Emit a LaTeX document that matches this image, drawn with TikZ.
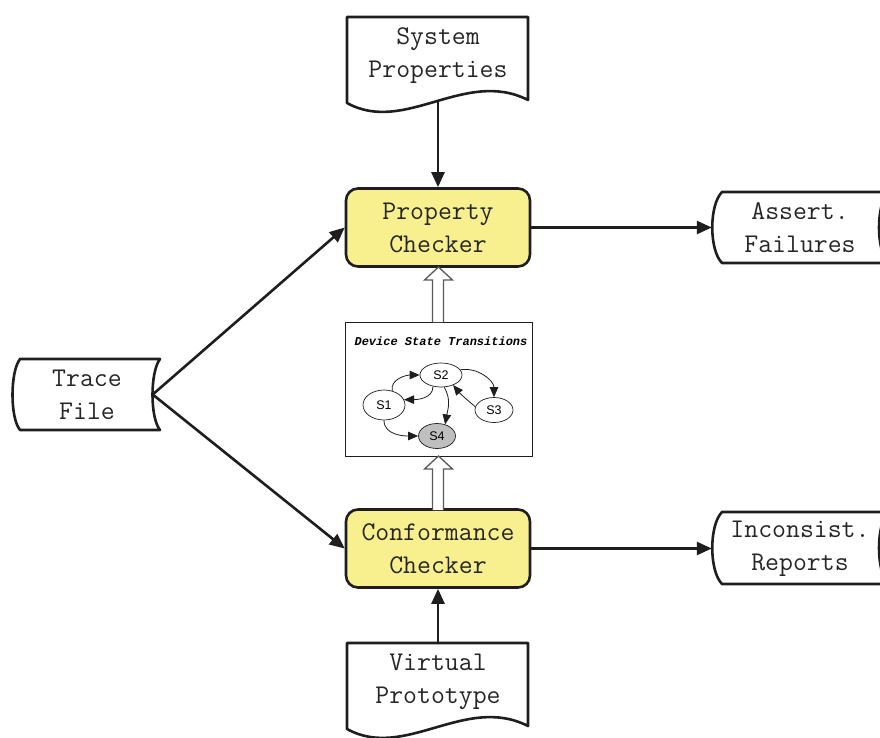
\documentclass[tikz,border=0pt]{standalone}
\usepackage{fontspec}
\newfontfamily\titlefont{Liberation Mono}
\newfontfamily\statefont{Liberation Sans}
\usetikzlibrary{arrows.meta,shapes.geometric}
\definecolor{pcyellow}{RGB}{248,240,143}
\definecolor{ink}{RGB}{30,30,30}
\newcommand{\bigfont}{\fontsize{27}{33}\selectfont\ttfamily}
\begin{document}
\begin{tikzpicture}[x=1pt,y=-1pt,
  mainline/.style={line width=2.6pt, draw=ink, -{Triangle[length=15pt,width=13pt]}},
  outline/.style={line width=2.6pt, draw=ink, line join=round},
  checker/.style={rounded corners=12pt, draw=ink, line width=2.6pt, fill=pcyellow,
    minimum width=184pt, minimum height=78pt, text=black!85, align=center, font=\bigfont},
  label/.style={align=center, font=\bigfont, text=black!85, inner sep=0pt},
  hollow/.style={draw=black!65, line width=1.3pt, fill=white, line join=miter},
  st/.style={ellipse, draw=ink, line width=0.7pt, inner sep=0pt, fill=white,
    font=\statefont\fontsize{12.5}{14}\selectfont},
  sarrow/.style={line width=0.8pt, draw=ink, -{Triangle[length=10pt,width=8.5pt]}}
]
\useasboundingbox (0,0) rectangle (880,738);
\clip (0,0) rectangle (880,738);

% System Properties (document shape)
\draw[outline] (347,103) -- (347,17) -- (528,17) -- (528,100)
  .. controls (465,68) and (405,135) .. (347,103) -- cycle;
\node[label] (sp) at (438,56) {System\\Properties};
\coordinate (sp-out) at (438,102);

% Virtual Prototype (document shape)
\draw[outline] (347,729) -- (347,643) -- (528,643) -- (528,726)
  .. controls (465,694) and (405,761) .. (347,729) -- cycle;
\node[label] (vp) at (438,682) {Virtual\\Prototype};
\coordinate (vp-top) at (438,643);

% Trace File (stored data)
\draw[outline] (20,359) -- (160,359) .. controls (150,372) and (150,418) .. (160,430)
  -- (20,430) .. controls (10,418) and (10,372) .. (20,359) -- cycle;
\node[label, minimum width=131pt] (tf) at (87,394.5) {Trace\\File};

% Assert. Failures
\draw[outline] (722,192) -- (888,192) .. controls (876,205) and (876,250) .. (888,263)
  -- (722,263) .. controls (709,250) and (709,205) .. (722,192) -- cycle;
\node[label, minimum width=176pt] (af) at (800,227.5) {Assert.\\Failures};

% Inconsist. Reports
\draw[outline] (722,512) -- (888,512) .. controls (876,525) and (876,571) .. (888,584)
  -- (722,584) .. controls (709,571) and (709,525) .. (722,512) -- cycle;
\node[label, minimum width=176pt] (ir) at (800,548.5) {Inconsist.\\Reports};

% Checkers
\node[checker] (pc) at (438,227.5) {Property\\Checker};
\node[checker] (cc) at (438,548.5) {Conformance\\Checker};

% State transition box
\node[draw=ink, line width=0.8pt, minimum width=187pt, minimum height=134pt, inner sep=0pt] (dst) at (438.5,389.5) {};
\node[font=\titlefont\bfseries\itshape\fontsize{12}{13}\selectfont, inner sep=0pt] (ttl) at (441,341) {Device State Transitions};
\node[st, minimum width=42pt, minimum height=30pt] (s1) at (384,405) {S1};
\node[st, minimum width=42pt, minimum height=24pt] (s2) at (441,375) {S2};
\node[st, minimum width=38pt, minimum height=25pt] (s3) at (494,410) {S3};
\node[st, minimum width=37pt, minimum height=25pt, fill=black!25] (s4) at (437,436) {S4};
\draw[sarrow] (s1.60) to[out=100,in=180] (s2.west);
\draw[sarrow] (s2.235) to[out=-90,in=0] (s1.15);
\draw[sarrow] (s2.-75) to[out=-60,in=80] (s4.55);
\draw[sarrow] (s2.15) to[out=10,in=90] (s3.north);
\draw[sarrow] (s3.170) to[out=140,in=-50] (s2.-40);
\draw[sarrow] (s1.south) to[out=-90,in=180] (s4.west);

% Hollow arrows
\draw[hollow] (432.5,322) -- (432.5,280) -- (424.5,280) -- (438.5,267) -- (452.5,280) -- (443.5,280) -- (443.5,322);
\draw[hollow] (432.5,510) -- (432.5,469) -- (424.5,469) -- (438.5,456) -- (452.5,469) -- (443.5,469) -- (443.5,510);

% Main connectors
\draw[mainline] (sp-out) -- (pc.north);
\draw[mainline] (tf.east) -- (pc.west);
\draw[mainline] (tf.east) -- (cc.west);
\draw[mainline] (pc.east) -- (af.west);
\draw[mainline] (cc.east) -- (ir.west);
\draw[mainline] (vp-top) -- (cc.south);
\end{tikzpicture}
\end{document}
